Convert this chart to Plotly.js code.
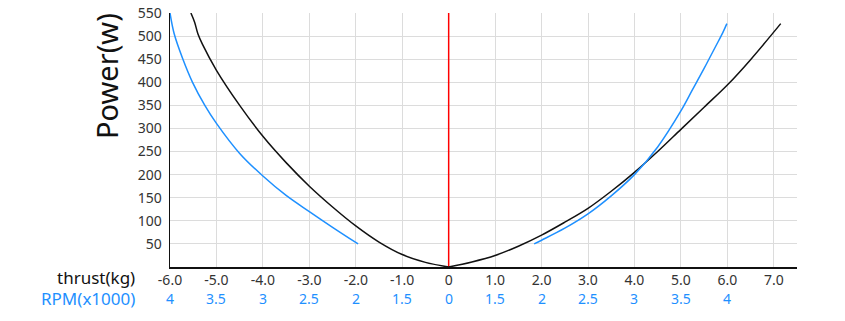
<!DOCTYPE html>
<html>
<head>
<meta charset="utf-8">
<script src="https://cdn.plot.ly/plotly-3.0.1.min.js"></script>
<style>html,body{margin:0;padding:0;background:#fff}#chart{width:845px;height:321px}</style>
</head>
<body>
<div id="chart"></div>
<script>
// Thrust tick values and labels
const thrustTicks = [-6, -5, -4, -3, -2, -1, 0, 1, 2, 3, 4, 5, 6, 7];
const thrustLabels = ["-6.0", "-5.0", "-4.0", "-3.0", "-2.0", "-1.0", "0", "1.0", "2.0", "3.0", "4.0", "5.0", "6.0", "7.0"];
const rpmTicks = [-6, -5, -4, -3, -2, -1, 0, 1, 2, 3, 4, 5, 6];
const rpmLabels = ["4", "3.5", "3", "2.5", "2", "1.5", "0", "1.5", "2", "2.5", "3", "3.5", "4"];
const powerTicks = [50, 100, 150, 200, 250, 300, 350, 400, 450, 500, 550];

// Black curve (thrust vs power), negative side
const blackLX = [-5.55, -5.47, -5.40, -5.3, -5.0, -4.5, -4.0, -3.5, -3.0, -2.5, -2.0, -1.5, -1.0, -0.5, 0];
const blackLY = [550, 530, 505, 482, 426, 350, 283, 226, 175, 130, 89, 54, 27, 10, 0];
// Black curve, positive side
const blackRX = [0, 0.5, 1.0, 1.5, 2.0, 2.5, 3.0, 3.5, 4.0, 4.5, 5.0, 5.5, 6.0, 6.5, 7.15];
const blackRY = [0, 11, 25, 45, 69, 97, 127, 164, 205, 250, 298, 346, 394, 449, 527];

// Blue curve, negative side
const blueLX = [-6.0, -5.91, -5.73, -5.52, -5.25, -5.0, -4.5, -4.0, -3.5, -3.0, -2.5, -1.95];
const blueLY = [550, 505, 452, 401, 350, 311, 246, 197, 155, 120, 86, 50];
// Blue curve, positive side
const blueRX = [1.84, 2.0, 2.5, 3.0, 3.5, 4.0, 4.5, 5.0, 5.25, 5.5, 5.75, 5.9, 5.99];
const blueRY = [50, 58, 84, 115, 154, 200, 260, 338, 384, 430, 478, 507, 527];

// Red zero line
const zeroX = [0, 0];
const zeroY = [0, 550];

const FONT = "Noto Sans, sans-serif";
const BLUE = "#1e90ff";
const BLACK = "#111111";

function curve(x, y, color) {
  return {x: x, y: y, mode: "lines", line: {color: color, width: 1.5, shape: "spline", smoothing: 1}};
}

const traces = [
  {x: zeroX, y: zeroY, mode: "lines", line: {color: "#ff0000", width: 1.5}},
  curve(blackLX, blackLY, BLACK),
  curve(blackRX, blackRY, BLACK),
  curve(blueLX, blueLY, BLUE),
  curve(blueRX, blueRY, BLUE)
];

const annotations = rpmTicks.map((t, i) => ({
  x: t, y: 0, xref: "x", yref: "paper", text: rpmLabels[i], showarrow: false,
  xanchor: "center", yanchor: "middle", yshift: -31,
  font: {family: FONT, size: 14, color: BLUE}
}));
annotations.push({
  x: 0, y: 0, xref: "paper", yref: "paper", text: "thrust(kg)", showarrow: false,
  xanchor: "right", yanchor: "middle", xshift: -33, yshift: -10,
  font: {family: FONT, size: 17, color: BLACK}
});
annotations.push({
  x: 0, y: 0, xref: "paper", yref: "paper", text: "RPM(x1000)", showarrow: false,
  xanchor: "right", yanchor: "middle", xshift: -33, yshift: -31,
  font: {family: FONT, size: 17, color: BLUE}
});
annotations.push({
  x: 0, y: 1, xref: "paper", yref: "paper", text: "Power(w)", showarrow: false,
  textangle: -90, xanchor: "center", yanchor: "middle", xshift: -64, yshift: -63,
  font: {family: FONT, size: 29, color: BLACK}
});

const layout = {
  width: 845, height: 321,
  margin: {l: 170, r: 48, t: 13, b: 54},
  paper_bgcolor: "#ffffff", plot_bgcolor: "#ffffff",
  showlegend: false,
  font: {family: FONT, size: 14, color: "#333333"},
  xaxis: {
    range: [-6, 7.5], tickmode: "array", tickvals: thrustTicks, ticktext: thrustLabels,
    showgrid: true, gridcolor: "#dcdcdc", gridwidth: 1, zeroline: false,
    showline: true, linecolor: BLACK, linewidth: 1.5, ticks: "",
    tickfont: {family: FONT, size: 14, color: "#333333"}
  },
  yaxis: {
    range: [0, 550], tickmode: "array", tickvals: powerTicks,
    showgrid: true, gridcolor: "#dcdcdc", gridwidth: 1, zeroline: false,
    showline: true, linecolor: BLACK, linewidth: 1.5, ticks: "",
    ticklabelstandoff: 4,
    tickfont: {family: FONT, size: 14, color: "#333333"}
  },
  annotations: annotations
};

Plotly.newPlot("chart", traces, layout, {displayModeBar: false, staticPlot: true});
</script>
</body>
</html>
